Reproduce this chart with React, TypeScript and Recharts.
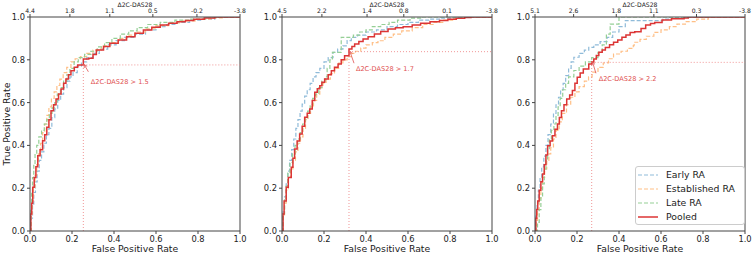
import React from 'react';
import { LineChart, Line, XAxis, YAxis, ReferenceLine, ReferenceDot, Legend } from 'recharts';

const FONT = '"DejaVu Sans", sans-serif';

const seriesNames = ['Early RA', 'Established RA', 'Late RA', 'Pooled'];
const seriesColors = ['#8fbbd9', '#ffbf86', '#95cf95', '#dc3535'];
const seriesDash = ['4 2', '4 2', '4 2', undefined];

const fprTicks = [0, 0.2, 0.4, 0.6, 0.8, 1.0];
const tprTicks = [0, 0.2, 0.4, 0.6, 0.8, 1.0];

// upper axis: Δ2C-DAS28 thresholds, placed at their FPR
const deltaPos1 = [0, 0.19, 0.38, 0.585, 0.795, 1];
const deltaLab1 = ['4.4', '1.8', '1.1', '0.5', '-0.2', '-3.8'];
const deltaPos2 = [0, 0.19, 0.405, 0.58, 0.786, 1];
const deltaLab2 = ['4.5', '2.2', '1.4', '0.8', '0.1', '-3.8'];
const deltaPos3 = [0, 0.184, 0.387, 0.566, 0.769, 1];
const deltaLab3 = ['5.1', '2.6', '1.8', '1.1', '0.3', '-3.8'];

// chosen cut-offs
const cutFpr = [0.254, 0.319, 0.27];
const cutTpr = [0.776, 0.838, 0.788];
const cutLab = ['1.5', '1.7', '2.2'];

type P = [number, number];

// ---- panel 1 ----
const early1: P[] = [[0,0],[0.006,0.06],[0.012,0.12],[0.018,0.18],[0.026,0.23],[0.034,0.28],[0.044,0.33],[0.055,0.37],[0.066,0.41],[0.078,0.45],[0.09,0.48],[0.104,0.53],[0.118,0.57],[0.132,0.61],[0.146,0.64],[0.16,0.67],[0.176,0.70],[0.19,0.72],[0.205,0.74],[0.225,0.77],[0.245,0.79],[0.27,0.81],[0.30,0.83],[0.33,0.85],[0.37,0.87],[0.41,0.89],[0.45,0.905],[0.50,0.92],[0.55,0.94],[0.60,0.955],[0.65,0.965],[0.70,0.975],[0.76,0.985],[0.82,0.99],[0.88,1.0],[1.0,1.0]];
const estab1: P[] = [[0,0],[0.005,0.07],[0.01,0.14],[0.016,0.20],[0.024,0.26],[0.032,0.31],[0.04,0.36],[0.05,0.41],[0.06,0.46],[0.07,0.50],[0.08,0.54],[0.09,0.58],[0.102,0.62],[0.115,0.65],[0.128,0.68],[0.142,0.71],[0.158,0.74],[0.175,0.765],[0.195,0.79],[0.215,0.805],[0.24,0.815],[0.27,0.83],[0.30,0.845],[0.34,0.865],[0.38,0.88],[0.42,0.90],[0.46,0.915],[0.50,0.93],[0.55,0.945],[0.60,0.96],[0.66,0.972],[0.72,0.982],[0.79,0.99],[0.86,0.996],[0.92,1.0],[1.0,1.0]];
const late1: P[] = [[0,0],[0.004,0.10],[0.008,0.18],[0.012,0.25],[0.018,0.31],[0.024,0.36],[0.032,0.40],[0.042,0.44],[0.055,0.47],[0.068,0.50],[0.08,0.52],[0.092,0.55],[0.105,0.575],[0.118,0.60],[0.13,0.64],[0.145,0.67],[0.16,0.70],[0.175,0.73],[0.19,0.76],[0.21,0.79],[0.23,0.81],[0.26,0.825],[0.29,0.84],[0.32,0.86],[0.355,0.88],[0.39,0.90],[0.43,0.92],[0.47,0.935],[0.51,0.95],[0.56,0.965],[0.62,0.975],[0.69,0.985],[0.76,0.99],[0.84,1.0],[1.0,1.0]];
const pooled1: P[] = [[0,0],[0.004,0.08],[0.008,0.13],[0.013,0.204],[0.02,0.25],[0.028,0.30],[0.037,0.352],[0.048,0.38],[0.06,0.422],[0.07,0.45],[0.08,0.485],[0.09,0.52],[0.10,0.562],[0.112,0.59],[0.124,0.617],[0.136,0.64],[0.148,0.664],[0.16,0.69],[0.171,0.71],[0.183,0.73],[0.195,0.749],[0.211,0.765],[0.227,0.776],[0.254,0.804],[0.28,0.807],[0.30,0.825],[0.316,0.846],[0.35,0.862],[0.38,0.877],[0.42,0.893],[0.46,0.908],[0.50,0.924],[0.54,0.939],[0.58,0.952],[0.62,0.963],[0.66,0.971],[0.70,0.978],[0.74,0.984],[0.78,0.989],[0.83,0.995],[0.88,1.0],[1.0,1.0]];

// ---- panel 2 ----
const early2: P[] = [[0,0],[0.005,0.09],[0.012,0.16],[0.02,0.22],[0.028,0.28],[0.036,0.33],[0.046,0.38],[0.056,0.43],[0.066,0.48],[0.076,0.52],[0.086,0.56],[0.096,0.593],[0.108,0.63],[0.12,0.66],[0.134,0.69],[0.148,0.72],[0.162,0.74],[0.18,0.76],[0.2,0.79],[0.22,0.81],[0.243,0.835],[0.265,0.85],[0.29,0.865],[0.31,0.89],[0.33,0.905],[0.36,0.915],[0.40,0.93],[0.45,0.94],[0.50,0.955],[0.55,0.965],[0.60,0.975],[0.65,0.985],[0.70,0.99],[0.76,0.995],[0.82,1.0],[1.0,1.0]];
const estab2: P[] = [[0,0],[0.006,0.07],[0.012,0.13],[0.02,0.19],[0.03,0.25],[0.04,0.29],[0.052,0.33],[0.064,0.37],[0.076,0.41],[0.088,0.44],[0.1,0.48],[0.112,0.52],[0.124,0.55],[0.136,0.58],[0.15,0.61],[0.165,0.64],[0.18,0.67],[0.195,0.69],[0.21,0.71],[0.23,0.735],[0.25,0.76],[0.27,0.785],[0.29,0.80],[0.31,0.815],[0.33,0.83],[0.35,0.84],[0.375,0.855],[0.40,0.87],[0.43,0.88],[0.457,0.889],[0.49,0.905],[0.53,0.92],[0.57,0.935],[0.62,0.95],[0.67,0.965],[0.72,0.975],[0.77,0.985],[0.82,0.993],[0.86,1.0],[1.0,1.0]];
const late2: P[] = [[0,0],[0.006,0.08],[0.012,0.15],[0.02,0.21],[0.028,0.27],[0.038,0.32],[0.05,0.36],[0.062,0.40],[0.074,0.43],[0.086,0.46],[0.098,0.50],[0.11,0.53],[0.122,0.56],[0.134,0.59],[0.146,0.62],[0.16,0.64],[0.175,0.67],[0.19,0.70],[0.205,0.72],[0.215,0.76],[0.228,0.80],[0.24,0.835],[0.282,0.905],[0.34,0.915],[0.37,0.93],[0.40,0.94],[0.43,0.955],[0.47,0.965],[0.51,0.975],[0.55,0.985],[0.61,0.995],[0.66,1.0],[1.0,1.0]];
const pooled2: P[] = [[0,0],[0.005,0.08],[0.01,0.14],[0.02,0.204],[0.03,0.25],[0.044,0.298],[0.052,0.34],[0.06,0.383],[0.072,0.42],[0.084,0.453],[0.096,0.49],[0.108,0.531],[0.12,0.55],[0.132,0.57],[0.144,0.61],[0.156,0.648],[0.168,0.665],[0.18,0.679],[0.19,0.695],[0.203,0.71],[0.22,0.73],[0.235,0.749],[0.25,0.765],[0.267,0.78],[0.282,0.80],[0.298,0.819],[0.319,0.85],[0.333,0.862],[0.346,0.874],[0.366,0.886],[0.386,0.897],[0.41,0.908],[0.44,0.92],[0.47,0.932],[0.505,0.944],[0.54,0.95],[0.577,0.955],[0.62,0.963],[0.66,0.971],[0.705,0.978],[0.75,0.984],[0.79,0.99],[0.83,0.994],[0.87,0.998],[0.9,1.0],[1.0,1.0]];

// ---- panel 3 ----
const early3: P[] = [[0,0],[0.004,0.07],[0.01,0.13],[0.016,0.19],[0.024,0.25],[0.032,0.30],[0.042,0.35],[0.052,0.40],[0.062,0.45],[0.075,0.50],[0.088,0.55],[0.1,0.59],[0.112,0.625],[0.122,0.66],[0.134,0.69],[0.146,0.726],[0.16,0.76],[0.172,0.79],[0.185,0.812],[0.21,0.83],[0.235,0.845],[0.256,0.858],[0.28,0.87],[0.31,0.885],[0.343,0.905],[0.37,0.93],[0.40,0.955],[0.43,0.983],[0.61,0.99],[0.64,1.0],[1.0,1.0]];
const estab3: P[] = [[0,0],[0.006,0.05],[0.012,0.10],[0.02,0.15],[0.028,0.20],[0.036,0.25],[0.046,0.29],[0.056,0.33],[0.066,0.36],[0.075,0.39],[0.088,0.43],[0.1,0.47],[0.115,0.51],[0.13,0.55],[0.15,0.59],[0.17,0.625],[0.19,0.65],[0.21,0.675],[0.235,0.70],[0.255,0.72],[0.272,0.742],[0.3,0.765],[0.325,0.785],[0.35,0.805],[0.374,0.827],[0.41,0.84],[0.44,0.853],[0.468,0.866],[0.472,0.882],[0.5,0.895],[0.53,0.91],[0.566,0.928],[0.6,0.94],[0.64,0.955],[0.676,0.967],[0.72,0.978],[0.77,0.99],[0.825,1.0],[1.0,1.0]];
const late3: P[] = [[0,0],[0.012,0.04],[0.02,0.10],[0.028,0.16],[0.036,0.22],[0.044,0.28],[0.052,0.33],[0.06,0.38],[0.068,0.43],[0.078,0.47],[0.09,0.50],[0.1,0.54],[0.11,0.58],[0.12,0.62],[0.132,0.66],[0.146,0.69],[0.16,0.72],[0.185,0.75],[0.21,0.77],[0.24,0.79],[0.27,0.81],[0.3,0.835],[0.32,0.87],[0.34,0.92],[0.358,0.967],[0.40,1.0],[1.0,1.0]];
const pooled3: P[] = [[0,0],[0.004,0.06],[0.008,0.10],[0.013,0.14],[0.02,0.19],[0.028,0.23],[0.036,0.266],[0.044,0.31],[0.052,0.355],[0.06,0.398],[0.072,0.42],[0.083,0.445],[0.095,0.475],[0.107,0.5],[0.116,0.53],[0.126,0.562],[0.138,0.59],[0.151,0.617],[0.165,0.635],[0.178,0.656],[0.19,0.69],[0.201,0.718],[0.215,0.738],[0.23,0.757],[0.256,0.78],[0.27,0.79],[0.28,0.804],[0.292,0.82],[0.304,0.835],[0.32,0.846],[0.335,0.858],[0.355,0.87],[0.374,0.882],[0.394,0.893],[0.414,0.905],[0.433,0.916],[0.453,0.928],[0.475,0.931],[0.505,0.946],[0.527,0.963],[0.55,0.97],[0.57,0.974],[0.605,0.986],[0.65,0.992],[0.71,0.995],[0.73,1.0],[1.0,1.0]];

const toPts = (s: P[]) => s.map(([fpr, tpr]) => ({ fpr, tpr }));
const f1 = (v: number) => v.toFixed(1);

const ANN = '#e05050';
const AXIS = '#444';

const topTitle = (p: any) => {
  const vb = p.viewBox;
  return (
    <text x={vb.x + vb.width / 2} y={4.5} textAnchor="middle" dominantBaseline="central"
      fontSize={6.1} fontFamily={FONT} fill="#222">{'\u03942C-DAS28'}</text>
  );
};
const bottomTitle = (p: any) => {
  const vb = p.viewBox;
  return (
    <text x={vb.x + vb.width / 2} y={vb.y + 17} textAnchor="middle" dominantBaseline="central"
      fontSize={9.3} fontFamily={FONT} fill="#222">False Positive Rate</text>
  );
};
const leftTitle = (p: any) => {
  const vb = p.viewBox;
  const cy = vb.y + vb.height / 2;
  return (
    <text x={6} y={cy} transform={`rotate(-90 6 ${cy})`} textAnchor="middle" dominantBaseline="central"
      fontSize={9.3} fontFamily={FONT} fill="#222">True Positive Rate</text>
  );
};

const arrowShape = (p: any) => {
  const { x1, y1, x2, y2 } = p;
  const a = Math.atan2(y2 - y1, x2 - x1);
  const h = 3.5;
  const ax = x2 - h * Math.cos(a - 0.5), ay = y2 - h * Math.sin(a - 0.5);
  const bx = x2 - h * Math.cos(a + 0.5), by = y2 - h * Math.sin(a + 0.5);
  return (
    <g>
      <line x1={x1} y1={y1} x2={x2} y2={y2} stroke={ANN} strokeWidth={0.8} />
      <path d={`M${ax},${ay}L${x2},${y2}L${bx},${by}`} fill="none" stroke={ANN} strokeWidth={0.8} />
    </g>
  );
};

const LegendBox = () => (
  <div style={{ border: '1px solid #cccccc', borderRadius: 3, background: 'rgba(255,255,255,0.85)',
    padding: '1px 4px 0 2px', width: 102, fontFamily: FONT, fontSize: 9.3, color: '#222' }}>
    {seriesNames.map((n, i) => (
      <div key={n} style={{ display: 'flex', alignItems: 'center', height: 14 }}>
        <svg width={20} height={6}>
          <line x1={0} y1={3} x2={20} y2={3} stroke={seriesColors[i]} strokeWidth={i === 3 ? 1.5 : 1.2}
            strokeDasharray={seriesDash[i]} />
        </svg>
        <span style={{ marginLeft: 8, lineHeight: '14px' }}>{n}</span>
      </div>
    ))}
  </div>
);

type PanelProps = {
  left: number; width: number; right: number;
  series: P[][]; deltaPos: number[]; deltaLab: string[];
  k: number; textAt: [number, number]; arrowFrom: [number, number];
  showYLabel?: boolean; showLegend?: boolean;
};

function Panel({ left, width, right, series, deltaPos, deltaLab, k, textAt, arrowFrom, showYLabel, showLegend }: PanelProps) {
  const tick = { fontSize: 8.3, fill: '#222', fontFamily: FONT };
  return (
    <div style={{ position: 'absolute', left, top: 0 }}>
      <LineChart width={width} height={254} margin={{ top: 0, right, bottom: 0, left: 0 }}>
        <XAxis xAxisId="top" orientation="top" type="number" dataKey="fpr" domain={[0, 1]} allowDataOverflow
          ticks={deltaPos} interval={0} tickFormatter={(v: number) => deltaLab[deltaPos.indexOf(v)]}
          height={17} tickSize={3} tickMargin={1} stroke={AXIS}
          tick={{ fontSize: 6.1, fill: '#222', fontFamily: FONT }} label={topTitle} />
        <XAxis type="number" dataKey="fpr" domain={[0, 1]} allowDataOverflow ticks={fprTicks} interval={0}
          tickFormatter={f1} height={23} tickSize={3} stroke={AXIS} tick={tick} label={bottomTitle} />
        <YAxis type="number" domain={[0, 1]} allowDataOverflow ticks={tprTicks} interval={0} tickFormatter={f1}
          width={30} tickSize={3} stroke={AXIS} tick={tick} label={showYLabel ? leftTitle : undefined} />
        <ReferenceLine x={1} stroke={AXIS} />
        {series.map((s, i) => (
          <Line key={seriesNames[i]} name={seriesNames[i]} data={toPts(s)} dataKey="tpr" type="stepAfter"
            stroke={seriesColors[i]} strokeWidth={i === 3 ? 1.5 : 1.2} strokeDasharray={seriesDash[i]}
            dot={false} activeDot={false} isAnimationActive={false} />
        ))}
        <ReferenceLine segment={[{ x: cutFpr[k], y: cutTpr[k] }, { x: 1, y: cutTpr[k] }]}
          stroke="#ee8a8a" strokeWidth={0.9} strokeDasharray="1 2" />
        <ReferenceLine segment={[{ x: cutFpr[k], y: 0 }, { x: cutFpr[k], y: cutTpr[k] }]}
          stroke="#ee8a8a" strokeWidth={0.9} strokeDasharray="1 2" />
        <ReferenceLine segment={[{ x: arrowFrom[0], y: arrowFrom[1] }, { x: cutFpr[k] + 0.004, y: cutTpr[k] + 0.002 }]}
          shape={arrowShape} />
        <ReferenceDot x={textAt[0]} y={textAt[1]} r={0}
          shape={(p: any) => (
            <text x={p.cx} y={p.cy} dominantBaseline="central" fontSize={6.6} fontFamily={FONT} fill={ANN}>
              {`\u03942C-DAS28 > ${cutLab[k]}`}
            </text>
          )} />
        {showLegend && (
          <Legend layout="vertical" align="center" verticalAlign="middle" content={<LegendBox />}
            wrapperStyle={{ left: 130, top: 166, width: 'auto', height: 'auto' }} />
        )}
      </LineChart>
    </div>
  );
}

export default function App() {
  return (
    <div style={{ position: 'absolute', left: 0, top: 0, width: 752, height: 254, background: '#fff' }}>
      <Panel left={0} width={250} right={10} series={[early1, estab1, late1, pooled1]}
        deltaPos={deltaPos1} deltaLab={deltaLab1} k={0} textAt={[0.289, 0.696]} arrowFrom={[0.278, 0.744]} showYLabel />
      <Panel left={252} width={250} right={10} series={[early2, estab2, late2, pooled2]}
        deltaPos={deltaPos2} deltaLab={deltaLab2} k={1} textAt={[0.352, 0.755]} arrowFrom={[0.343, 0.784]} />
      <Panel left={505} width={247} right={7} series={[early3, estab3, late3, pooled3]}
        deltaPos={deltaPos3} deltaLab={deltaLab3} k={2} textAt={[0.303, 0.709]} arrowFrom={[0.29, 0.737]} showLegend />
    </div>
  );
}
